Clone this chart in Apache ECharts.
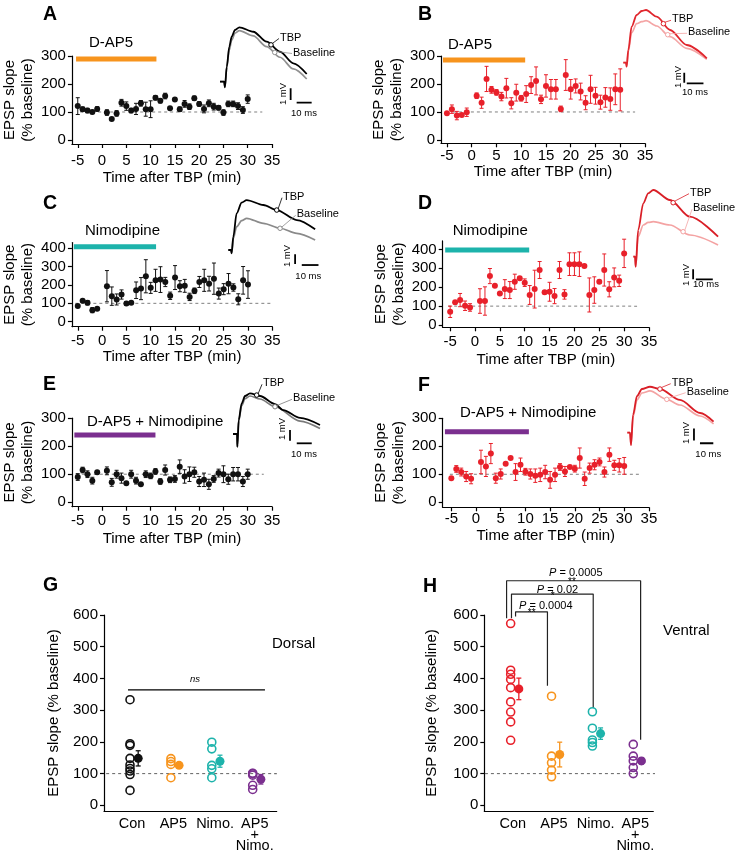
<!DOCTYPE html>
<html><head><meta charset="utf-8">
<script src="https://cdn.jsdelivr.net/npm/echarts/dist/echarts.min.js"></script>
<style>html,body{margin:0;padding:0;background:#fff}#c{width:735px;height:853px}</style>
</head><body><div id="c"></div>
<script>
const FONT = "'Liberation Sans', Arial, Helvetica, sans-serif";
const BLACK = '#111111', RED = '#E8202A', ORANGE = '#F7941D', TEAL = '#1DB3AB', PURPLE = '#7B2F8F';

// ---------- data ----------
const times = [-5,-4,-3,-2,-1,1,2,3,4,5,6,7,8,9,10,11,12,13,14,15,16,17,18,19,20,21,22,23,24,25,26,27,28,29,30];
const xTickVals = [-5,0,5,10,15,20,25,30,35];
const yTicks300 = [0,100,200,300];
const yTicks400 = [0,100,200,300,400];

const meanA = [121,110,105,100,111, 98,75,95,133,121,105,111,131,110,110,151,140,157,113,145,110,129,119,149,129,111,131,119,115,98,129,129,121,107,146];
const semA  = [30,8,8,6,8, 10,5,10,12,15,8,20,10,25,30,8,8,10,4,4,8,12,10,8,8,14,12,12,8,10,10,10,12,12,15];
const meanB = [95,110,87,89,99, 158,133,218,179,170,155,185,131,169,149,164,196,211,145,193,181,181,111,232,181,193,173,133,181,158,135,152,146,181,179];
const semB  = [5,15,15,5,15, 10,20,45,12,10,15,35,20,30,10,30,30,50,15,40,35,35,10,55,35,25,30,25,50,30,25,35,40,55,75];
const meanC = [86,114,103,63,70, 193,139,121,148,99,103,171,180,247,184,225,229,216,141,240,193,195,135,168,216,225,207,234,153,177,207,186,122,225,202];
const semC  = [4,5,12,14,5, 85,50,30,25,10,5,45,60,90,30,60,70,25,20,65,30,35,20,15,30,60,40,85,30,30,55,20,30,75,75];
const meanD = [70,120,132,102,93, 127,127,259,208,167,190,185,229,247,224,159,190,291,173,176,153,291,162,322,322,322,312,159,185,229,291,189,252,234,379];
const semD  = [30,8,35,25,20, 65,75,40,5,5,50,45,40,8,20,50,100,45,8,50,40,45,25,60,60,65,8,90,70,8,85,40,50,30,75];
const meanE = [90,115,100,77,107, 112,71,100,86,68,100,77,64,100,94,110,74,115,80,83,127,92,100,107,74,80,64,83,104,100,82,100,100,74,100];
const semE  = [12,10,12,12,6, 14,14,14,18,4,14,12,4,12,10,10,10,18,10,12,24,24,26,18,18,24,18,12,14,30,18,24,24,18,18];
const meanF = [86,119,108,92,84, 144,128,174,86,101,138,158,108,134,109,101,95,98,108,80,98,126,110,126,120,158,84,122,134,144,108,170,132,132,130];
const semF  = [4,12,14,18,18, 42,36,36,18,18,4,4,30,24,12,18,24,24,24,30,24,12,18,4,12,36,24,18,18,14,18,24,18,24,30];

// EPSP traces [ms, mV]
const traceA_tbp  = [[0,0],[2.7,0],[3.3,-0.48],[4.5,1.28],[6.2,2.99],[7.8,3.85],[10,4.42],[12.9,4.65],[22.2,4.27],[31.1,3.42],[40,2.56],[48.9,1.57],[57.8,0.66]];
const traceA_base = [[0,0],[2.7,0],[3.3,-0.48],[4.5,1.2],[6.2,2.71],[7.8,3.56],[10,4.14],[12.9,4.36],[22.2,3.91],[31.1,2.99],[40,2.09],[48.9,1.09],[57.8,0.23]];
const traceB_tbp  = [[0,0],[1.6,0],[2.0,-0.4],[3.0,1.27],[5.0,3.6],[8.0,4.77],[11.0,5.17],[13.6,5.27],[20.0,4.6],[28.0,3.27],[38.0,1.77],[50.0,0.44]];
const traceB_base = [[0,0],[1.6,0],[2.0,-0.4],[3.0,1.1],[5.0,3.0],[8.0,3.9],[11.0,4.1],[13.6,4.2],[20.0,3.67],[28.0,2.6],[38.0,1.44],[50.0,0.34]];
const traceC_tbp  = [[0,0],[1.6,0],[2.0,-0.34],[3.0,1.37],[5.0,3.78],[8.0,4.88],[11.0,5.15],[21.0,4.64],[29.0,4.12],[41.0,3.09],[52.0,2.13]];
const traceC_base = [[0,0],[1.6,0],[2.0,-0.34],[3.0,1.2],[5.0,2.4],[8.0,3.02],[11.0,3.27],[21.0,2.75],[31.0,2.24],[41.0,1.72],[52.0,1.03]];
const traceD_tbp  = [[0,0],[1.0,0],[1.4,-1.0],[2.9,2.67],[5.9,5.34],[8.8,6.34],[11.8,6.67],[21.6,5.67],[33.4,4.0],[50,2.0]];
const traceD_base = [[0,0],[1.0,0],[1.4,-1.0],[2.9,2.0],[5.9,3.17],[8.8,3.43],[11.8,3.5],[21.6,3.17],[33.4,2.17],[50,1.17]];
const traceE_tbp  = [[0,0],[2.7,0],[2.9,-1.19],[3.8,1.31],[5.8,2.87],[8,3.55],[11.3,3.8],[18,3.55],[28,2.8],[33.5,2.24],[44.7,1.5],[58,0.84]];
const traceE_base = [[0,0],[2.7,0],[2.9,-1.19],[3.8,1.2],[5.8,2.65],[8,3.3],[11.3,3.55],[18,3.27],[28,2.55],[44.7,1.21],[58,0.51]];
const traceF_tbp  = [[0,0],[2.0,0],[2.8,-1.03],[4.3,1.48],[7.3,3.06],[11,3.64],[17,3.83],[24.5,3.64],[39.5,2.73],[54.6,1.64],[64.7,0.92]];
const traceF_base = [[0,0],[2.0,0],[2.8,-1.03],[4.3,1.31],[7.3,2.73],[11,3.31],[17,3.48],[29.6,2.78],[39.5,2.31],[54.6,1.39],[64.7,0.73]];

// Summary panels
const catNames = ['Con','AP5','Nimo.','AP5\n+\nNimo.'];
const gCon = [333,194,189,148,127,116,108,97,47];
const gAP5 = [147,138,129,87];
const gNimo = [199,178,126,115,87];
const gBoth = [101,100,95,63,50];
const gMean = [148,126,139,82];
const gSem = [24,5,19,15];
const hCon = [573,426,413,397,371,326,294,263,205];
const hAP5 = [344,155,134,111,90];
const hNimo = [295,243,206,198,187];
const hBoth = [192,155,140,119,100];
const hMean = [367,160,226,140];
const hSem = [34,39,18,10];

// ---------- build ----------
const chart = echarts.init(document.getElementById('c'), null, {renderer:'canvas'});
const option = {animation:false, backgroundColor:'#fff', textStyle:{fontFamily:FONT},
  grid:[], xAxis:[], yAxis:[], series:[]};

function errSeries(gi, data, color, cap, lw) {
  return {type:'custom', xAxisIndex:gi, yAxisIndex:gi, data:data, encode:{x:0,y:[1,2]}, z:3, silent:true, clip:false,
    renderItem:function(params, api){
      const x = api.value(0), lo = api.value(1), hi = api.value(2);
      const a = api.coord([x, hi]), b = api.coord([x, lo]);
      const s = {stroke:color, lineWidth:lw};
      return {type:'group', children:[
        {type:'line', shape:{x1:a[0],y1:a[1],x2:b[0],y2:b[1]}, style:s},
        {type:'line', shape:{x1:a[0]-cap,y1:a[1],x2:a[0]+cap,y2:a[1]}, style:s},
        {type:'line', shape:{x1:b[0]-cap,y1:b[1],x2:b[0]+cap,y2:b[1]}, style:s}
      ]};
    }};
}
function lineSeries(gi, data, color, width, type, z) {
  return {type:'line', xAxisIndex:gi, yAxisIndex:gi, data:data, symbol:'none', clip:false, silent:true, z:z||2,
    lineStyle:{color:color, width:width, type:type||'solid', cap:'butt'}};
}
const axisLineStyle = {color:'#000', width:1.2};
const labelStyle = {fontSize:15, color:'#000', fontFamily:FONT};

const tc = [
 {mean:meanA, sem:semA, color:BLACK, grid:{left:68,top:56,width:204,height:88}, xmin:-6.2, ymin:-14.3, ymax:300, yTicks:yTicks300, drug:{c:ORANGE,from:-5.35,to:11.2,level:289}, dash:[-4.5,33], xm:9, xng:26, yng:34},
 {mean:meanB, sem:semB, color:RED, grid:{left:441,top:56,width:204,height:87.3}, xmin:-6.2, ymin:-12, ymax:300, yTicks:yTicks300, drug:{c:ORANGE,from:-5.8,to:10.8,level:286}, dash:[-3.8,33], xm:5, xng:21, yng:30},
 {mean:meanC, sem:semC, color:BLACK, grid:{left:68.3,top:242.6,width:204,height:84.1}, xmin:-6.2, ymin:-27, ymax:430, yTicks:yTicks400, drug:{c:TEAL,from:-5.8,to:11.1,level:408}, dash:[-5.5,35], xm:7, xng:23, yng:34},
 {mean:meanD, sem:semD, color:RED, grid:{left:442.7,top:240.9,width:206.3,height:86.4}, xmin:-6.5, ymin:-12, ymax:445, yTicks:yTicks400, drug:{c:TEAL,from:-6.0,to:10.9,level:397}, dash:[-5.4,32.6], xm:7.5, xng:25, yng:30},
 {mean:meanE, sem:semE, color:BLACK, grid:{left:68,top:418.2,width:204,height:88.5}, xmin:-6.2, ymin:-16, ymax:300, yTicks:yTicks300, drug:{c:PURPLE,from:-5.7,to:11.0,level:240}, dash:[-5.4,33.3], xm:7, xng:25, yng:34},
 {mean:meanF, sem:semF, color:RED, grid:{left:442.7,top:418.3,width:206.2,height:89}, xmin:-6.75, ymin:-18, ymax:300, yTicks:yTicks300, drug:{c:PURPLE,from:-6.3,to:10.7,level:252}, dash:[-5.3,33], xm:4.5, xng:21, yng:30}
];

tc.forEach(function(p){
  const gi = option.grid.length;
  option.grid.push(p.grid);
  option.xAxis.push({gridIndex:gi, type:'value', min:p.xmin, max:35,
    axisLine:{show:true, onZero:false, lineStyle:axisLineStyle},
    axisTick:{show:true, inside:false, length:4, customValues:xTickVals, lineStyle:axisLineStyle},
    axisLabel:Object.assign({customValues:xTickVals, margin:p.xm}, labelStyle),
    splitLine:{show:false},
    name:'Time after TBP (min)', nameLocation:'middle', nameGap:p.xng, nameTextStyle:labelStyle});
  option.yAxis.push({gridIndex:gi, type:'value', min:p.ymin, max:p.ymax,
    axisLine:{show:true, onZero:false, lineStyle:axisLineStyle},
    axisTick:{show:true, inside:false, length:4, customValues:p.yTicks, lineStyle:axisLineStyle},
    axisLabel:Object.assign({customValues:p.yTicks, margin:6}, labelStyle),
    splitLine:{show:false},
    name:'EPSP slope\n(% baseline)', nameLocation:'middle', nameRotate:90, nameGap:p.yng,
    nameTextStyle:Object.assign({lineHeight:18}, labelStyle)});
  option.series.push(lineSeries(gi, [[p.dash[0],100],[p.dash[1],100]], '#808080', 1, [3,3], 1));
  option.series.push(lineSeries(gi, [[p.drug.from,p.drug.level],[p.drug.to,p.drug.level]], p.drug.c, 5, 'solid', 2));
  option.series.push(errSeries(gi, times.map(function(t,i){return [t, p.mean[i]-p.sem[i], p.mean[i]+p.sem[i]];}), p.color, 2, 1));
  option.series.push({type:'scatter', xAxisIndex:gi, yAxisIndex:gi, data:times.map(function(t,i){return [t,p.mean[i]];}),
    symbol:'circle', symbolSize:6, itemStyle:{color:p.color, opacity:1}, z:4, silent:true});
});

const insets = [
 {grid:{left:220,top:11.5,width:105,height:105.3}, xr:[0,70], yr:[-3,6], tbp:traceA_tbp, base:traceA_base, cT:'#000', cB:'#909090', sv:[47.1,-0.56,-1.56], sh:[-1.79,51.1,61.1], mT:[34,3.15], mB:[36.5,2.5]},
 {grid:{left:623.3,top:2.7,width:100.2,height:90}, xr:[0,60], yr:[-3,6], tbp:traceB_tbp, base:traceB_base, cT:'#E0262D', cB:'#F4A5A5', sv:[36.5,-1.0,-2.0], sh:[-2.06,38,48], mT:[24,3.9], mB:[26.6,2.8]},
 {grid:{left:228.3,top:191.8,width:100.2,height:87.3}, xr:[0,60], yr:[-3,6], tbp:traceC_tbp, base:traceC_base, cT:'#000', cB:'#8a8a8a', sv:[40,-0.44,-1.44], sh:[-1.55,44,54], mT:[29,4.12], mB:[31,2.24]},
 {grid:{left:633.3,top:186.7,width:102,height:100}, xr:[0,60], yr:[-3,7], tbp:traceD_tbp, base:traceD_base, cT:'#D91F27', cB:'#F4A3A3', sv:[35.3,-1.26,-2.26], sh:[-2.26,36.9,46.9], mT:[23.5,5.4], mB:[29.4,2.5]},
 {grid:{left:233,top:369.8,width:105,height:96.3}, xr:[0,70], yr:[-3,6], tbp:traceE_tbp, base:traceE_base, cT:'#000', cB:'#7a7a7a', sv:[38,0.37,-0.63], sh:[-0.87,42.5,52.5], mT:[15.8,3.64], mB:[28,2.55]},
 {grid:{left:627.3,top:372.7,width:100,height:96}, xr:[0,75], yr:[-3,5], tbp:traceF_tbp, base:traceF_base, cT:'#D91F27', cB:'#F4A3A3', sv:[50,0.35,-0.65], sh:[-0.88,54.5,64.5], mT:[24.5,3.64], mB:[29.6,2.78]}
];
insets.forEach(function(p){
  const gi = option.grid.length;
  p.gi = gi;
  option.grid.push(p.grid);
  option.xAxis.push({gridIndex:gi, type:'value', show:false, min:p.xr[0], max:p.xr[1], splitLine:{show:false}});
  option.yAxis.push({gridIndex:gi, type:'value', show:false, min:p.yr[0], max:p.yr[1], splitLine:{show:false}});
  const sm = {smooth:0.3, smoothMonotone:'x'};
  option.series.push(Object.assign(lineSeries(gi, p.base, p.cB, 1.7), sm));
  option.series.push(Object.assign(lineSeries(gi, p.tbp, p.cT, 1.8, 'solid', 3), sm));
  option.series.push(lineSeries(gi, [[p.sv[0],p.sv[1]],[p.sv[0],p.sv[2]]], '#000', 1.8));
  option.series.push(lineSeries(gi, [[p.sh[1],p.sh[0]],[p.sh[2],p.sh[0]]], '#000', 1.8));
  option.series.push({type:'scatter', xAxisIndex:gi, yAxisIndex:gi, data:[p.mT], symbolSize:4.5, z:5, silent:true,
    itemStyle:{color:'#fff', opacity:1, borderColor:p.cT, borderWidth:1}});
  option.series.push({type:'scatter', xAxisIndex:gi, yAxisIndex:gi, data:[p.mB], symbolSize:4.5, z:5, silent:true,
    itemStyle:{color:'#fff', opacity:1, borderColor:p.cB, borderWidth:1}});
});

const summaries = [
 {grid:{left:104,top:615,width:172.7,height:196.7}, xr:[0.364,4.587], groups:[gCon,gAP5,gNimo,gBoth], mean:gMean, sem:gSem, colors:[BLACK,ORANGE,TEAL,PURPLE], yng:43, dash:[0.27,4.59]},
 {grid:{left:484.3,top:615,width:169,height:196.7}, xr:[0.355,4.49], groups:[hCon,hAP5,hNimo,hBoth], mean:hMean, sem:hSem, colors:[RED,ORANGE,TEAL,PURPLE], yng:45, dash:[0.37,4.57]}
];
const sumYTicks = [0,100,200,300,400,500,600];
summaries.forEach(function(p, k){
  const gi = option.grid.length;
  p.gi = gi;
  option.grid.push(p.grid);
  const labelPos = [1.05,2.06,3.08,4.05];
  option.xAxis.push({gridIndex:gi, type:'value', min:p.xr[0], max:p.xr[1],
    axisLine:{show:true, onZero:false, lineStyle:axisLineStyle}, axisTick:{show:false}, splitLine:{show:false},
    axisLabel:{customValues:labelPos, formatter:function(v){return catNames[Math.round(v)-1];}, margin:7,
      fontSize:14.5, lineHeight:11, color:'#000', fontFamily:FONT}});
  option.yAxis.push({gridIndex:gi, type:'value', min:-18, max:600,
    axisLine:{show:true, onZero:false, lineStyle:axisLineStyle},
    axisTick:{show:true, inside:false, length:4, customValues:sumYTicks, lineStyle:axisLineStyle},
    axisLabel:Object.assign({customValues:sumYTicks, margin:6}, labelStyle), splitLine:{show:false},
    name:'EPSP slope (% baseline)', nameLocation:'middle', nameRotate:90, nameGap:p.yng, nameTextStyle:labelStyle});
  option.series.push(lineSeries(gi, [[p.dash[0],100],[p.dash[1],100]], '#707070', 1.1, [3,3], 1));
  p.groups.forEach(function(vals, c){
    const col = p.colors[c];
    option.series.push({type:'scatter', xAxisIndex:gi, yAxisIndex:gi, data:vals.map(function(v){return [c+1, v];}),
      symbol:'circle', symbolSize:8, z:4, silent:true, itemStyle:{color:'rgba(255,255,255,0)', opacity:1, borderColor:col, borderWidth:1.6}});
    option.series.push(errSeries(gi, [[c+1.2, p.mean[c]-p.sem[c], p.mean[c]+p.sem[c]]], col, 2.5, 1.3));
    option.series.push({type:'scatter', xAxisIndex:gi, yAxisIndex:gi, data:[[c+1.2, p.mean[c]]],
      symbol:'circle', symbolSize:9, z:5, silent:true, itemStyle:{color:col, opacity:1}});
  });
});
// "ns" bar in G, significance brackets in H
const G = summaries[0].gi, H = summaries[1].gi;
option.series.push(lineSeries(G, [[0.95,364],[4.3,364]], '#000', 1.2));
option.series.push(lineSeries(H, [[0.90,590],[0.90,708],[4.18,708],[4.18,207]], '#222', 1.2));
option.series.push(lineSeries(H, [[1.02,590],[1.02,666],[3.02,666],[3.02,307]], '#222', 1.2));
option.series.push(lineSeries(H, [[1.12,595],[1.12,610],[1.9,610],[1.9,377]], '#222', 1.2));

chart.setOption(option);

// ---------- annotations ----------
const gfx = [];
function txt(x, y, s, size, opts) {
  opts = opts || {};
  gfx.push({type:'text', x:x, y:y, rotation:opts.rot||0, z:100, silent:true,
    style:{text:s, fontSize:size, fontFamily:FONT, fontWeight:opts.bold?'bold':'normal', fontStyle:opts.italic?'italic':'normal',
      fill:opts.color||'#000', align:opts.align||'left', verticalAlign:'middle', rich:opts.rich}});
}
[['A',43,15],['B',418,15],['C',43,203.5],['D',418,203.5],['E',43,385],['F',418,385.5],['G',43,585.5],['H',423,586.5]]
  .forEach(function(l){ txt(l[1], l[2], l[0], 19.5, {bold:true}); });
txt(89, 43, 'D-AP5', 15); txt(448, 44.5, 'D-AP5', 15);
txt(85, 231, 'Nimodipine', 15); txt(452.7, 231, 'Nimodipine', 15);
txt(87, 421.7, 'D-AP5 + Nimodipine', 15); txt(460, 413, 'D-AP5 + Nimodipine', 15);

const insetLabels = [
 {tbp:[280,37.5], base:[293,52.5], mv:[283.3,94], ms:[304,113]},
 {tbp:[672,19.3], base:[688,32.3], mv:[678.3,77], ms:[695,92.7]},
 {tbp:[283,196.7], base:[296.7,214.3], mv:[287.3,256], ms:[308.3,276]},
 {tbp:[690,192.7], base:[693,208.3], mv:[686,275], ms:[706,284.3]},
 {tbp:[263,383.3], base:[293,398.3], mv:[282.7,429], ms:[304,454]},
 {tbp:[671.7,382.7], base:[686.7,391.7], mv:[686.7,433], ms:[708.3,454]}
];
insets.forEach(function(p, i){
  const L = insetLabels[i];
  txt(L.tbp[0], L.tbp[1], 'TBP', 11);
  txt(L.base[0], L.base[1], 'Baseline', 11);
  txt(L.mv[0], L.mv[1], '1 mV', 9.5, {rot:Math.PI/2, align:'center'});
  txt(L.ms[0], L.ms[1], '10 ms', 9.5, {align:'center'});
  const mt = chart.convertToPixel({gridIndex:p.gi}, p.mT);
  const mb = chart.convertToPixel({gridIndex:p.gi}, p.mB);
  gfx.push({type:'line', silent:true, z:99, shape:{x1:mt[0]+1.5,y1:mt[1]-1.5,x2:L.tbp[0]-1,y2:L.tbp[1]+1}, style:{stroke:p.cT, lineWidth:0.8}});
  gfx.push({type:'line', silent:true, z:99, shape:{x1:mb[0]+1.5,y1:mb[1]-1,x2:L.base[0]-1,y2:L.base[1]+1}, style:{stroke:p.cB, lineWidth:0.8}});
});
txt(195, 679, 'ns', 9.5, {italic:true, align:'center'});
txt(272, 644, 'Dorsal', 15);
txt(663, 631, 'Ventral', 15);
const rich = {i:{fontStyle:'italic', fontSize:11, fontFamily:FONT}, n:{fontSize:11, fontFamily:FONT}};
txt(575.8, 573, '{i|P}{n| = 0.0005}', 11, {align:'center', rich:rich});
txt(557.5, 589.5, '{i|P}{n| = 0.02}', 11, {align:'center', rich:rich});
txt(545.8, 605.5, '{i|P}{n| = 0.0004}', 11, {align:'center', rich:rich});
txt(572, 582, '**', 10, {align:'center'});
txt(552.7, 596.5, '*', 10, {align:'center'});
txt(531.7, 613.5, '**', 10, {align:'center'});

chart.setOption({graphic:gfx});
</script></body></html>
